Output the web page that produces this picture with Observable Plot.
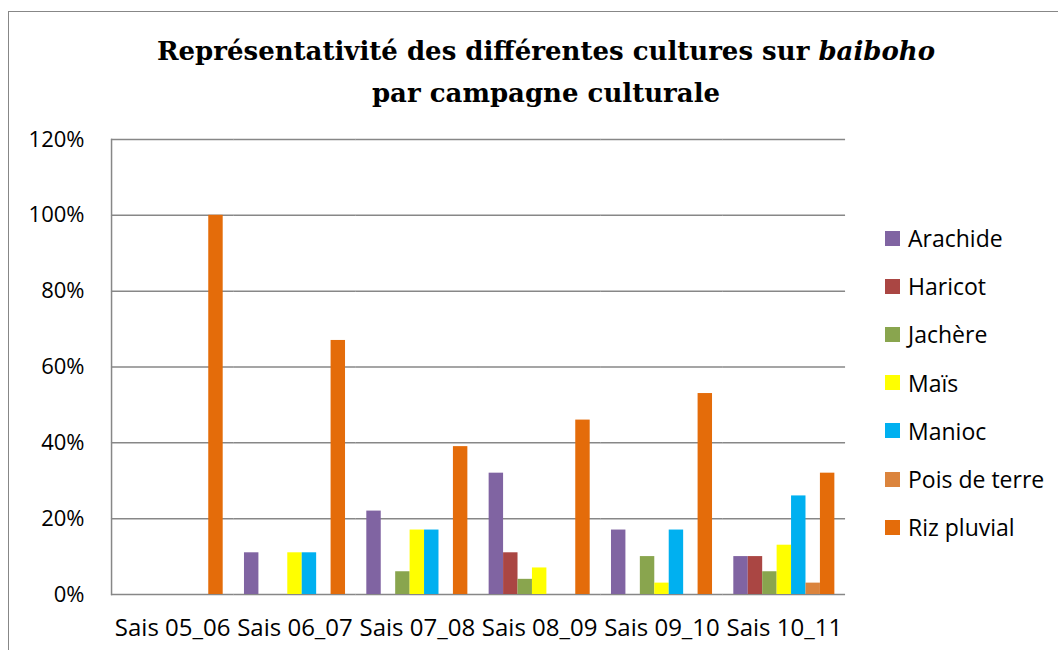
<!DOCTYPE html>
<html><head><meta charset="utf-8">
<script src="https://cdn.jsdelivr.net/npm/d3@7"></script>
<script src="https://cdn.jsdelivr.net/npm/@observablehq/plot@0.6"></script>
<style>
html,body{margin:0;padding:0;background:#fff;overflow:hidden;}
#wrap{position:relative;width:1058px;height:650px;overflow:hidden;background:#fff;}
#frame{position:absolute;left:8px;top:11px;width:1100px;height:700px;border:1.5px solid #878787;box-sizing:border-box;}
#title{position:absolute;left:0;top:30px;width:1092px;text-align:center;font-family:"DejaVu Serif",serif;font-weight:bold;font-size:26px;line-height:42px;color:#000;}
#chart{position:absolute;left:0;top:0;}
#legend{position:absolute;left:885px;top:0;font-family:"Open Sans",sans-serif;font-size:23px;color:#000;}
.item{position:absolute;left:0;white-space:nowrap;display:flex;align-items:center;}
.sw{width:15px;height:15px;margin-right:8px;flex:none;}
</style></head>
<body><div id="wrap"><div id="frame"></div>
<div id="title">Représentativité des différentes cultures sur <i>baiboho</i><br>par campagne culturale</div>
<div id="chart"></div><div id="legend"></div></div>
<script>
const seasons = ["Sais 05_06","Sais 06_07","Sais 07_08","Sais 08_09","Sais 09_10","Sais 10_11"];
const crops = ["Arachide","Haricot","Jachère","Maïs","Manioc","Pois de terre","Riz pluvial"];
const colors = ["#8064A2","#AA4643","#89A54E","#FFFF00","#00B0F0","#DB843D","#E46C0A"];
const arachide   = [0, 0.11, 0.22, 0.32, 0.17, 0.10];
const haricot    = [0, 0, 0, 0.11, 0, 0.10];
const jachere    = [0, 0, 0.06, 0.04, 0.10, 0.06];
const mais       = [0, 0.11, 0.17, 0.07, 0.03, 0.13];
const manioc     = [0, 0.11, 0.17, 0, 0.17, 0.26];
const poisDeTerre= [0, 0, 0, 0, 0, 0.03];
const rizPluvial = [1.00, 0.67, 0.39, 0.46, 0.53, 0.32];
const yTicks = [0, 0.2, 0.4, 0.6, 0.8, 1.0, 1.2];

const series = [arachide, haricot, jachere, mais, manioc, poisDeTerre, rizPluvial];
const data = [];
seasons.forEach((s, i) => crops.forEach((c, j) => {
  const v = series[j][i];
  if (v > 0) data.push({season: s, crop: c, value: v});
}));

const chart = Plot.plot({
  width: 1058, height: 650,
  marginLeft: 111, marginRight: 213, marginTop: 139, marginBottom: 56,
  style: {fontFamily: "'Open Sans', sans-serif", fontSize: "22px", color: "#000", background: "transparent", overflow: "visible"},
  fx: {domain: seasons, paddingInner: 0.174, paddingOuter: 0.087, round: false, label: null},
  x: {domain: crops, padding: 0, round: false, axis: null},
  y: {domain: [0, 1.2], label: null},
  color: {domain: crops, range: colors},
  marks: [
    Plot.ruleY(yTicks, {stroke: "#878787", strokeWidth: 1.5, insetLeft: -10.7, insetRight: -10.7}),
    Plot.frame({anchor: "left", stroke: "#878787", strokeWidth: 1.5, insetLeft: -10.6, facet: "super"}),
    Plot.barY(data, {fx: "season", x: "crop", y: "value", fill: "crop"}),
    Plot.axisY({ticks: yTicks, tickSize: 0, tickPadding: 37.6, tickFormat: d3.format(".0%"), label: null, fill: "#000"}),
    Plot.axisFx({anchor: "bottom", tickSize: 0, tickPadding: 24, fontSize: 24, label: null, fill: "#000"})
  ]
});
document.getElementById("chart").appendChild(chart);

const legend = document.getElementById("legend");
crops.forEach((c, i) => {
  const d = document.createElement("div");
  d.className = "item";
  d.style.top = (222 + i * 48.2) + "px";
  d.innerHTML = `<span class="sw" style="background:${colors[i]}"></span><span>${c}</span>`;
  legend.appendChild(d);
});
</script></body></html>
